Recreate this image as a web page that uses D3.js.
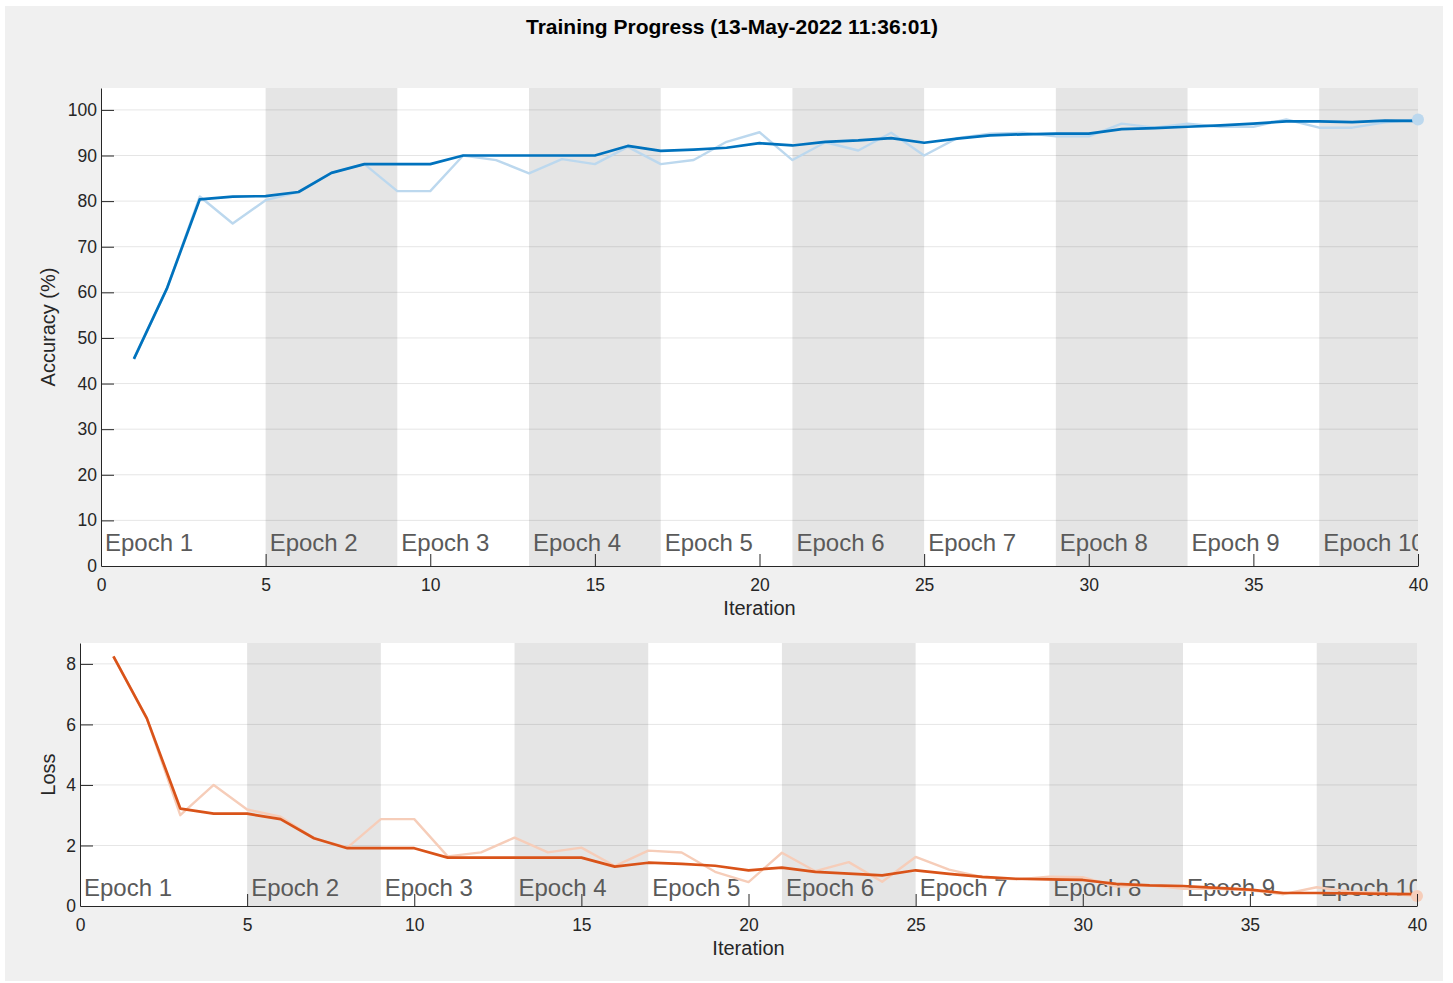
<!DOCTYPE html>
<html>
<head>
<meta charset="utf-8">
<script src="https://cdn.jsdelivr.net/npm/d3@7"></script>
<style>
  body { margin: 0; background: #fff; font-family: "Liberation Sans", Arial, sans-serif; }
</style>
</head>
<body>
<div id="chart"></div>
<script>
const iterations = d3.range(1, 41);
const accSmooth = [45.4, 60.8, 80.4, 81.0, 81.1, 82.0, 86.2, 88.1, 88.1, 88.1, 90.0, 90.0, 90.0, 90.0, 90.0, 92.1, 91.0, 91.3, 91.7, 92.7,
                   92.2, 93.0, 93.3, 93.8, 92.8, 93.7, 94.4, 94.65, 94.8, 94.8, 95.8, 96.0, 96.3, 96.6, 97.0, 97.5, 97.5, 97.3, 97.65, 97.6];
const accRaw = [45.4, 60.8, 81.0, 75.1, 80.2, 82.0, 86.2, 88.1, 82.2, 82.2, 90.0, 89.0, 86.1, 89.2, 88.1, 91.9, 88.1, 89.0, 93.0, 95.1,
                89.0, 92.9, 91.1, 95.0, 90.0, 93.8, 94.8, 95.0, 94.2, 94.2, 97.0, 96.1, 97.0, 96.3, 96.3, 97.9, 96.1, 96.1, 97.3, 97.9];
const lossSmooth = [8.25, 6.2, 3.22, 3.05, 3.05, 2.87, 2.24, 1.91, 1.91, 1.91, 1.6, 1.6, 1.6, 1.6, 1.6, 1.3, 1.43, 1.39, 1.33, 1.18,
                    1.27, 1.13, 1.07, 1.01, 1.18, 1.06, 0.96, 0.9, 0.88, 0.86, 0.73, 0.68, 0.66, 0.6, 0.54, 0.43, 0.43, 0.42, 0.4, 0.39];
const lossRaw = [8.25, 6.2, 3.0, 4.0, 3.19, 2.95, 2.24, 1.93, 2.87, 2.87, 1.64, 1.77, 2.26, 1.77, 1.93, 1.32, 1.83, 1.77, 1.13, 0.79,
                 1.76, 1.15, 1.45, 0.8, 1.62, 1.2, 0.95, 0.88, 0.97, 0.95, 0.64, 0.68, 0.57, 0.57, 0.52, 0.39, 0.62, 0.47, 0.43, 0.33];
const epochStarts = [0, 5, 9, 13, 17, 21, 25, 29, 33, 37];
const epochEnds = [5, 9, 13, 17, 21, 25, 29, 33, 37, 40];
const accTicks = d3.range(0, 101, 10);
const lossTicks = [0, 2, 4, 6, 8];
const xTicks = [0, 5, 10, 15, 20, 25, 30, 35, 40];

const width = 1453, height = 983;
const svg = d3.select("#chart").append("svg")
  .attr("width", width).attr("height", height);

// grey figure panel
svg.append("rect").attr("x", 5).attr("y", 6).attr("width", 1438).attr("height", 975).attr("fill", "#f0f0f0");

svg.append("text")
  .attr("x", 732).attr("y", 34)
  .attr("text-anchor", "middle")
  .style("font-size", "21px").style("font-weight", "bold").style("fill", "#000")
  .text("Training Progress (13-May-2022 11:36:01)");

function panel(opts) {
  const {left, right, top, bottom, yMax, yTicks, smooth, raw, dark, light, ylabel, id, labelOffset} = opts;
  const x = d3.scaleLinear().domain([0, 40]).range([left, right]);
  const y = d3.scaleLinear().domain([0, yMax]).range([bottom, top]);
  const g = svg.append("g");

  g.append("clipPath").attr("id", id)
    .append("rect").attr("x", left).attr("y", top).attr("width", right - left).attr("height", bottom - top);

  g.append("rect").attr("x", left).attr("y", top).attr("width", right - left).attr("height", bottom - top)
    .attr("fill", "#fff");

  // epoch shading (every other epoch)
  g.selectAll(".shade").data(epochStarts.filter((d, i) => i % 2 === 1))
    .join("rect")
    .attr("x", d => x(d))
    .attr("y", top)
    .attr("width", (d) => x(epochEnds[epochStarts.indexOf(d)]) - x(d))
    .attr("height", bottom - top)
    .attr("fill", "#e5e5e5");

  // grid
  g.selectAll(".grid").data(yTicks.filter(d => d > 0))
    .join("line")
    .attr("x1", left).attr("x2", right)
    .attr("y1", d => y(d)).attr("y2", d => y(d))
    .attr("stroke", "#000").attr("stroke-opacity", 0.1).attr("stroke-width", 1);

  // epoch labels
  g.append("g").attr("clip-path", `url(#${id})`)
    .selectAll("text").data(epochStarts)
    .join("text")
    .attr("x", d => x(d) + 4)
    .attr("y", bottom - labelOffset)
    .style("font-size", "24px").style("fill", "#5a5a5a")
    .text((d, i) => `Epoch ${i + 1}`);

  const line = d3.line().x((d, i) => x(iterations[i])).y(d => y(d));
  g.append("path").datum(raw)
    .attr("d", line).attr("fill", "none")
    .attr("stroke", light).attr("stroke-width", 2.4).attr("stroke-linejoin", "round");
  g.append("path").datum(smooth)
    .attr("d", line).attr("fill", "none")
    .attr("stroke", dark).attr("stroke-width", 2.7).attr("stroke-linejoin", "round");
  g.append("circle")
    .attr("cx", x(40)).attr("cy", y(raw[raw.length - 1])).attr("r", 6)
    .attr("fill", light);

  // axes
  const xAxis = g.append("g")
    .attr("transform", `translate(0,${bottom})`)
    .call(d3.axisBottom(x).tickValues(xTicks).tickSizeInner(-12).tickSizeOuter(0).tickPadding(13));
  const yAxis = g.append("g")
    .attr("transform", `translate(${left},0)`)
    .call(d3.axisLeft(y).tickValues(yTicks).tickSizeInner(-13).tickSizeOuter(0).tickPadding(4));
  [xAxis, yAxis].forEach(a => {
    a.select(".domain").attr("stroke", "#262626");
    a.selectAll(".tick line").attr("stroke", "#262626");
    a.selectAll("text").style("font-size", "17.5px").style("fill", "#262626")
      .style("font-family", "'Liberation Sans', Arial, sans-serif");
  });
  yAxis.selectAll(".tick").filter(d => d === 0).select("line").remove();
  xAxis.selectAll(".tick").filter(d => d === 0).select("line").remove();

  g.append("text")
    .attr("x", (left + right) / 2).attr("y", bottom + 49)
    .attr("text-anchor", "middle")
    .style("font-size", "20px").style("fill", "#262626")
    .text("Iteration");
  g.append("text")
    .attr("transform", `translate(55,${(top + bottom) / 2}) rotate(-90)`)
    .attr("text-anchor", "middle")
    .style("font-size", "20px").style("fill", "#262626")
    .text(ylabel);
}

panel({left: 101, right: 1418, top: 88, bottom: 566, yMax: 104.8, yTicks: accTicks,
  smooth: accSmooth, raw: accRaw, dark: "#0072bd", light: "#bcd8ee", ylabel: "Accuracy (%)", id: "clipAcc", labelOffset: 15});
panel({left: 80, right: 1417, top: 643, bottom: 906, yMax: 8.69, yTicks: lossTicks,
  smooth: lossSmooth, raw: lossRaw, dark: "#d95319", light: "#f6cdb9", ylabel: "Loss", id: "clipLoss", labelOffset: 10});
</script>
</body>
</html>
